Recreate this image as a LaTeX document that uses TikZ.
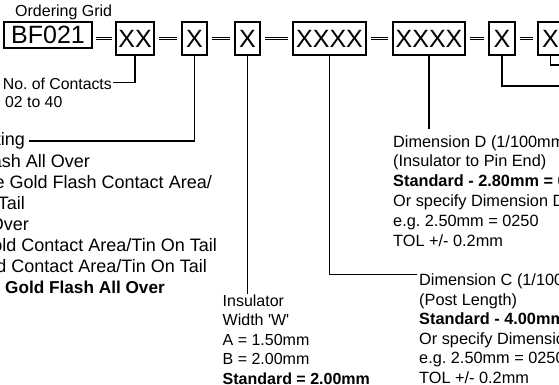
\documentclass[tikz,border=0pt]{standalone}
\usepackage{fontspec}
\setmainfont{Liberation Sans}
\usetikzlibrary{calc}
\frenchspacing
\begin{document}
\begin{tikzpicture}[x=1pt,y=-1pt,
  box/.style={draw, line width=1.4pt, inner sep=0pt, minimum height=33pt, font=\fontsize{25}{30}\selectfont},
  link/.style={draw, double, line width=1.1pt, double distance=1.4pt},
  lead/.style={line width=1.3pt},
  txt/.style={inner sep=0pt, font=\fontsize{16}{20}\selectfont, anchor=base west},
  dtxt/.style={inner sep=0pt, font=\fontsize{16.3}{20}\selectfont, anchor=base west},
  stxt/.style={inner sep=0pt, font=\fontsize{15.8}{18}\selectfont},
  ltxt/.style={inner sep=0pt, font=\fontsize{18}{21}\selectfont, anchor=base east}]
\useasboundingbox (0,0) rectangle (559,385);
\clip (0,0) rectangle (559,385);
% title
\node[txt] (title) at (15,16.5) {Ordering Grid};
% boxes
\node[box, minimum width=88pt, minimum height=26pt] (bf) at (48,35) {BF021};
\node[box, minimum width=38pt] (xx) at (135,38.5) {XX};
\node[box, minimum width=25pt] (x1) at (194.5,38.5) {X};
\node[box, minimum width=25pt] (x2) at (247.5,38.5) {X};
\node[box, minimum width=73pt] (xa) at (329.5,38.5) {XXXX};
\node[box, minimum width=72pt] (xb) at (429,38.5) {XXXX};
\node[box, minimum width=26pt] (x3) at (502,38.5) {X};
\node[box, minimum width=25pt] (x4) at (550.5,38.5) {X};
% double links
\draw[link] ($(bf.east |- xx.center)+(3pt,0pt)$) -- ($(xx.west)+(-3pt,0pt)$);
\foreach \a/\b in {xx/x1, x1/x2, x2/xa, xa/xb, xb/x3, x3/x4}
  \draw[link] ($(\a.east)+(4pt,0pt)$) -- ($(\b.west)+(-4pt,0pt)$);
% contacts
\node[stxt, anchor=base east] (nc) at (112,89.5) {No. of Contacts};
\node[stxt, anchor=base west] (nc2) at (5,107) {02 to 40};
\draw[lead] (xx.south) |- ($(nc.base east)+(1pt,7pt)$);
% plating block (cut at left)
\node[ltxt] (pl1) at (25,146) {ting};
\node[ltxt] (pl2) at (90,167.1) {ash All Over};
\node[ltxt] (pl3) at (212,188.2) {e Gold Flash Contact Area/};
\node[ltxt] (pl4) at (25,209.3) {Tail};
\node[ltxt] (pl5) at (29,230.4) {Over};
\node[ltxt] (pl6) at (217,251.5) {old Contact Area/Tin On Tail};
\node[ltxt] (pl7) at (207,272.6) {d Contact Area/Tin On Tail};
\node[ltxt, font=\fontsize{17.2}{21}\selectfont\bfseries] (pl8) at (165,293.7) {Gold Flash All Over};
\draw[lead] (x1.south) |- ($(pl1.base east)+(4pt,5pt)$);
% insulator block
\foreach \t [count=\i] in {Insulator, Width \textquotesingle W\textquotesingle, A = 1.50mm, B = 2.00mm, {\bfseries Standard = 2.00mm}}
  \node[txt] (ins\i) at (222.5,{306+19.6*(\i-1)}) {\t};
\draw[lead] (x2.south) -- (x2.south |- ins1.north);
% dimension D block
\foreach \t [count=\i] in {Dimension D (1/100mm, (Insulator to Pin End), {\bfseries Standard - 2.80mm = 0}, Or specify Dimension D, e.g. 2.50mm = 0250, TOL +/- 0.2mm}
  \node[dtxt] (dd\i) at (393,{147+19.8*(\i-1)}) {\t};
\draw[lead] (xb.south) -- ($(xb.south |- dd1.north)+(0pt,6pt)$);
% dimension C block
\foreach \t [count=\i] in {Dimension C (1/100, (Post Length), {\bfseries Standard - 4.00mm}, Or specify Dimension, e.g. 2.50mm = 0250, TOL +/- 0.2mm}
  \node[dtxt] (dc\i) at (419,{285.5+19.6*(\i-1)}) {\t};
\draw[lead] (xa.south) |- ($(dc1.base west)+(-2pt,11pt)$);
% leads running off the right edge
\coordinate (e3) at (566,86);
\coordinate (e4) at (566,65);
\draw[lead] (x3.south) |- (e3);
\draw[lead] (x4.south) |- (e4);
\end{tikzpicture}
\end{document}
